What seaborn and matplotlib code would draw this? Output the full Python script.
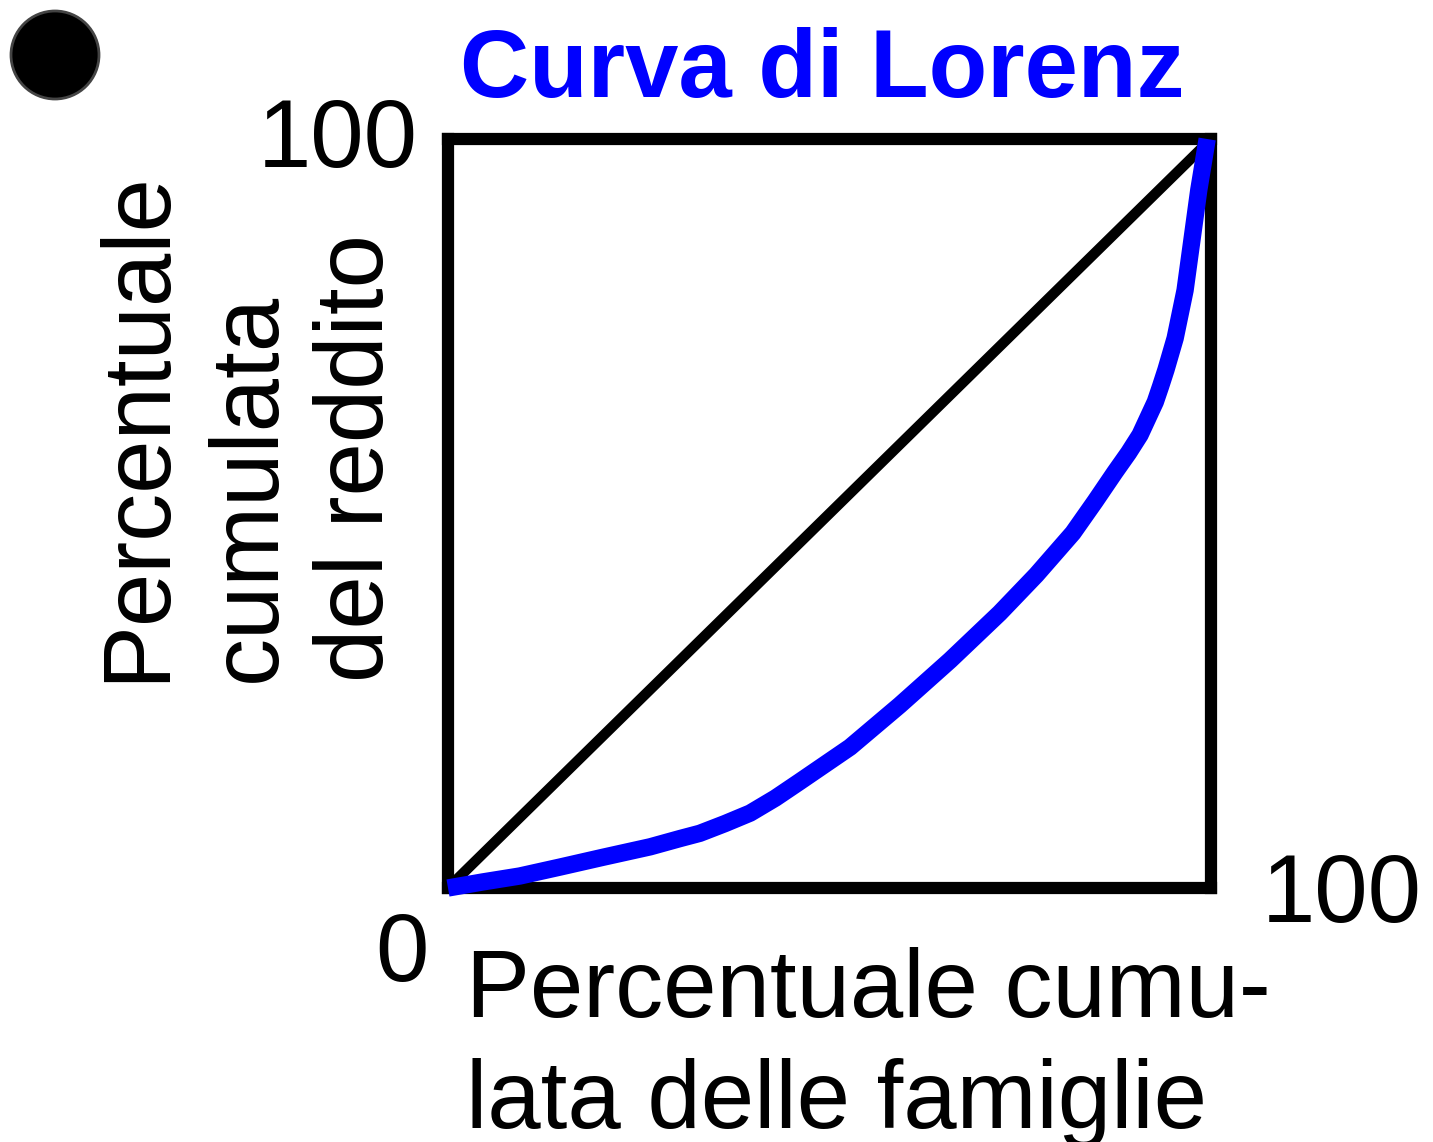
import matplotlib
matplotlib.use('Agg')
import matplotlib.pyplot as plt
from matplotlib.patches import Ellipse
import numpy as np
import pandas as pd
import seaborn as sns

# curve values (percent of families vs percent of income)
lorenz_x = [0, 4.5, 9.4, 14.7, 20.3, 26.5, 30.4, 33.0, 36.3, 39.6, 42.9, 46.1, 49.4, 52.7, 59.2, 65.8,
            72.3, 77.1, 81.9, 84.8, 87.4, 89.2, 90.7, 91.7, 92.7, 93.4, 94.1, 95.3, 96.6, 97.5, 98.4, 99.5]
lorenz_y = [0, 0.8, 1.6, 2.8, 4.1, 5.5, 6.6, 7.3, 8.6, 10.0, 12.0, 14.2, 16.5, 18.8, 24.4, 30.4,
            36.7, 41.8, 47.4, 51.6, 55.5, 58.1, 60.5, 62.7, 64.9, 67.0, 69.2, 73.4, 79.8, 86.5, 93.2, 100]
equality_x = [0, 100]
equality_y = [0, 100]

title = 'Curva di Lorenz'
x_label = ['Percentuale cumu-', 'lata delle famiglie']
y_label = ['Percentuale', 'cumulata', 'del reddito']

sns.set_style('white')
plt.rcParams['font.family'] = ['Liberation Sans', 'DejaVu Sans']
plt.rcParams['text.color'] = 'black'

fig = plt.figure(figsize=(14.33, 11.42), dpi=100)
ax = fig.add_axes([448 / 1433, 1 - 888 / 1142, 763 / 1433, 749 / 1142])

lorenz = pd.DataFrame({'x': lorenz_x, 'y': lorenz_y})
equality = pd.DataFrame({'x': equality_x, 'y': equality_y})

sns.lineplot(data=equality, x='x', y='y', color='black', linewidth=7.5, ax=ax)
sns.lineplot(data=lorenz, x='x', y='y', sort=False, color='#0000ff', linewidth=12.5, ax=ax,
             zorder=3, clip_on=False, solid_capstyle='butt', solid_joinstyle='round')

ax.set_xlim(0, 100)
ax.set_ylim(0, 100)
ax.set_xticks([])
ax.set_yticks([])
ax.set_xlabel('')
ax.set_ylabel('')
for s in ax.spines.values():
    s.set_visible(True)
    s.set_color('black')
    s.set_linewidth(8.8)

fs = 69
# corner values
ax.text(-3.9, 96.3, '100', fontsize=fs, color='black', ha='right', va='baseline')
ax.text(-2.6, -12.4, '0', fontsize=fs, color='black', ha='right', va='baseline')
ax.text(106.7, -4.5, '100', fontsize=fs, color='black', ha='left', va='baseline')

# title
ax.text(1.6, 105.6, title, fontsize=fs, fontweight='bold', color='#0000ff', ha='left', va='baseline')

# x label, two lines
ax.text(2.4, -17.2, x_label[0], fontsize=fs, color='black', ha='left', va='baseline')
ax.text(2.4, -32.0, x_label[1], fontsize=fs, color='black', ha='left', va='baseline')

# y label, three rotated lines
for xpos, line in zip([-37.4, -22.7, -8.5], y_label):
    ax.text(xpos, 27.5, line, fontsize=fs, color='black', rotation=90, rotation_mode='anchor',
            ha='left', va='baseline')

# bullet dot top left
fig.add_artist(Ellipse((55 / 1433, 1 - 55 / 1142), 88 / 1433, 88 / 1142, transform=fig.transFigure,
                       color='black', ec='#444444', lw=2))

fig.savefig('out.png', dpi=100)
